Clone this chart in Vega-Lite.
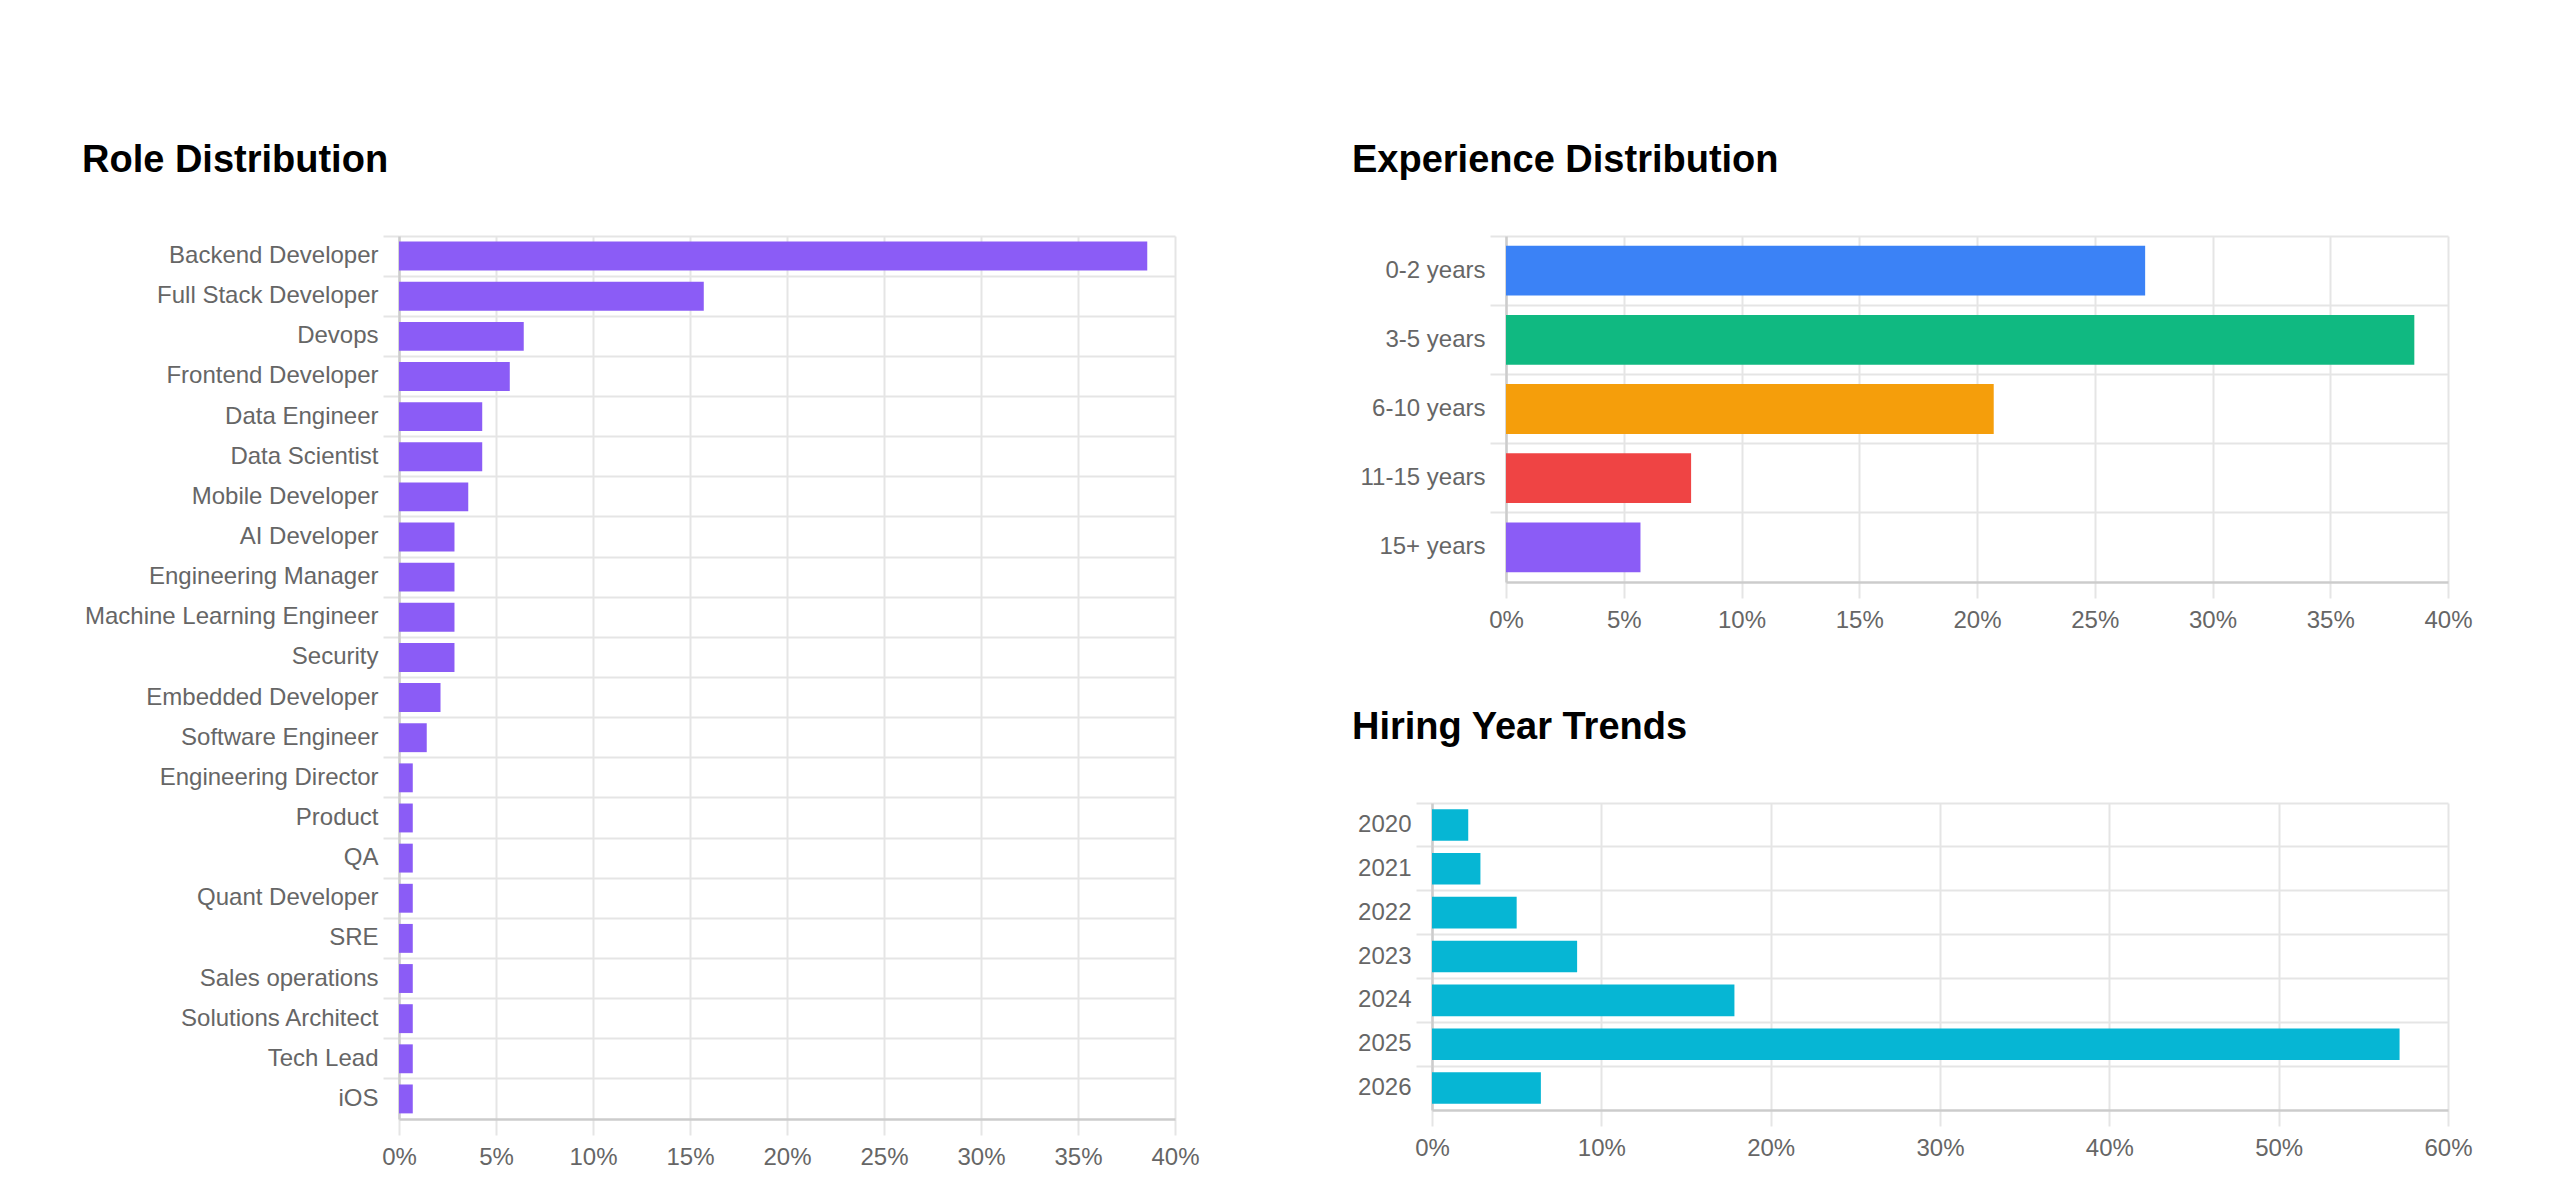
{
  "$schema": "https://vega.github.io/schema/vega-lite/v6.json",
  "background": "#ffffff",
  "padding": {"left": 82, "top": 142, "right": 0, "bottom": 0},
  "spacing": 145,
  "config": {
    "font": "Liberation Sans",
    "view": {"stroke": null},
    "axis": {
      "labelFont": "Liberation Sans",
      "labelFontSize": 24,
      "labelColor": "#666666",
      "gridColor": "#e5e5e5",
      "gridWidth": 2,
      "tickColor": "#e5e5e5",
      "tickWidth": 2,
      "tickSize": 16,
      "domainColor": "#cccccc",
      "domainWidth": 2.5,
      "labelLimit": 500
    },
    "axisX": {"labelPadding": 10, "labelFlush": false},
    "axisY": {"labelPadding": 5},
    "title": {
      "font": "Liberation Sans",
      "fontSize": 38,
      "fontWeight": "bold",
      "color": "#000000",
      "anchor": "start",
      "frame": "group",
      "baseline": "alphabetic",
      "offset": 55
    }
  },
  "hconcat": [
    {
      "title": {"text": "Role Distribution", "dx": -317},
      "width": 776,
      "height": 883,
      "data": {
        "values": [
          {"role": "Backend Developer", "pct": 38.57},
          {"role": "Full Stack Developer", "pct": 15.71},
          {"role": "Devops", "pct": 6.43},
          {"role": "Frontend Developer", "pct": 5.71},
          {"role": "Data Engineer", "pct": 4.29},
          {"role": "Data Scientist", "pct": 4.29},
          {"role": "Mobile Developer", "pct": 3.57},
          {"role": "AI Developer", "pct": 2.86},
          {"role": "Engineering Manager", "pct": 2.86},
          {"role": "Machine Learning Engineer", "pct": 2.86},
          {"role": "Security", "pct": 2.86},
          {"role": "Embedded Developer", "pct": 2.14},
          {"role": "Software Engineer", "pct": 1.43},
          {"role": "Engineering Director", "pct": 0.71},
          {"role": "Product", "pct": 0.71},
          {"role": "QA", "pct": 0.71},
          {"role": "Quant Developer", "pct": 0.71},
          {"role": "SRE", "pct": 0.71},
          {"role": "Sales operations", "pct": 0.71},
          {"role": "Solutions Architect", "pct": 0.71},
          {"role": "Tech Lead", "pct": 0.71},
          {"role": "iOS", "pct": 0.71}
        ]
      },
      "mark": {"type": "bar", "height": {"band": 0.72}, "color": "#8b5cf6"},
      "encoding": {
        "y": {
          "field": "role",
          "type": "nominal",
          "sort": null,
          "scale": {"paddingInner": 0, "paddingOuter": 0},
          "axis": {"title": null, "bandPosition": 0, "grid": true}
        },
        "x": {
          "field": "pct",
          "type": "quantitative",
          "scale": {"domain": [0, 40], "nice": false},
          "axis": {"title": null, "values": [0, 5, 10, 15, 20, 25, 30, 35, 40], "labelExpr": "datum.value + '%'"}
        }
      }
    },
    {
      "spacing": 77,
      "vconcat": [
        {
          "spacing": 0,
          "hconcat": [
            {
              "width": 1,
              "height": 1,
              "data": {"values": [{}]},
              "mark": {"type": "point", "opacity": 0},
              "encoding": {}
            },
            {
              "title": {"text": "Experience Distribution", "dx": -154},
              "width": 942,
              "height": 346,
              "data": {
                "values": [
                  {"exp": "0-2 years", "pct": 27.14},
                  {"exp": "3-5 years", "pct": 38.57},
                  {"exp": "6-10 years", "pct": 20.71},
                  {"exp": "11-15 years", "pct": 7.86},
                  {"exp": "15+ years", "pct": 5.71}
                ]
              },
              "mark": {"type": "bar", "height": {"band": 0.72}},
              "encoding": {
                "y": {
                  "field": "exp",
                  "type": "nominal",
                  "sort": null,
                  "scale": {"paddingInner": 0, "paddingOuter": 0},
                  "axis": {"title": null, "bandPosition": 0, "grid": true}
                },
                "x": {
                  "field": "pct",
                  "type": "quantitative",
                  "scale": {"domain": [0, 40], "nice": false},
                  "axis": {"title": null, "values": [0, 5, 10, 15, 20, 25, 30, 35, 40], "labelExpr": "datum.value + '%'"}
                },
                "color": {
                  "field": "exp",
                  "type": "nominal",
                  "legend": null,
                  "scale": {
                    "domain": ["0-2 years", "3-5 years", "6-10 years", "11-15 years", "15+ years"],
                    "range": ["#3b82f6", "#10b981", "#f59e0b", "#ef4444", "#8b5cf6"]
                  }
                }
              }
            }
          ]
        },
        {
          "spacing": 0,
          "hconcat": [
            {
              "width": 1,
              "height": 1,
              "data": {"values": [{}]},
              "mark": {"type": "point", "opacity": 0},
              "encoding": {}
            },
            {
              "title": {"text": "Hiring Year Trends", "dx": -80},
              "width": 1016,
              "height": 307,
              "data": {
                "values": [
                  {"year": "2020", "pct": 2.14},
                  {"year": "2021", "pct": 2.86},
                  {"year": "2022", "pct": 5.0},
                  {"year": "2023", "pct": 8.57},
                  {"year": "2024", "pct": 17.86},
                  {"year": "2025", "pct": 57.14},
                  {"year": "2026", "pct": 6.43}
                ]
              },
              "mark": {"type": "bar", "height": {"band": 0.72}, "color": "#06b6d4"},
              "encoding": {
                "y": {
                  "field": "year",
                  "type": "nominal",
                  "sort": null,
                  "scale": {"paddingInner": 0, "paddingOuter": 0},
                  "axis": {"title": null, "bandPosition": 0, "grid": true}
                },
                "x": {
                  "field": "pct",
                  "type": "quantitative",
                  "scale": {"domain": [0, 60], "nice": false},
                  "axis": {"title": null, "values": [0, 10, 20, 30, 40, 50, 60], "labelExpr": "datum.value + '%'"}
                }
              }
            }
          ]
        }
      ]
    }
  ]
}
